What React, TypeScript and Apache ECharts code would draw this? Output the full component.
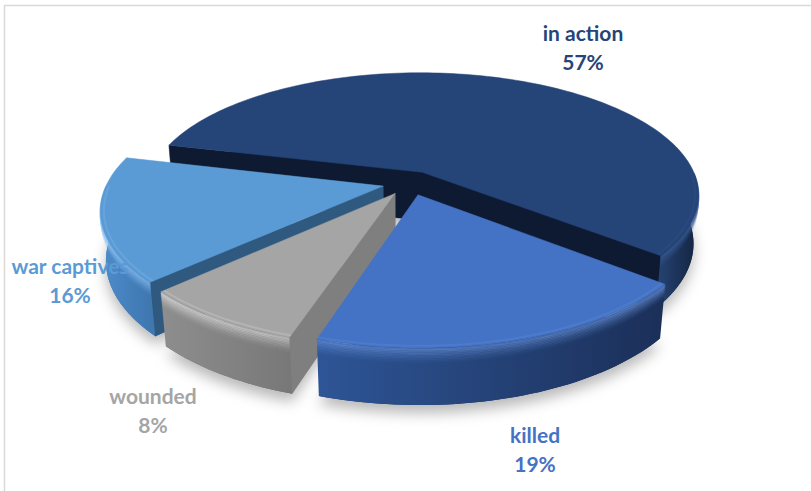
import React, { useEffect, useRef } from "react";
import * as echarts from "echarts";

const categories = ["in action", "killed", "wounded", "war captives"];
const values = [57, 19, 8, 16];

const topColors = ["#254478", "#4472c4", "#a5a5a5", "#5b9bd5"];
const wallLight = ["#24416f", "#2e5596", "#8e8e8e", "#4d8ccb"];
const wallDark = ["#13233f", "#1b2f58", "#787878", "#3f77b0"];
const cutColors = ["#0e1a31", "#1c3461", "#7f7f7f", "#30597f"];
const rimColors = ["#3a5c94", "#6f9be6", "#e6e6e6", "#8cc2f4"];
const labelColors = ["#264478", "#4472c4", "#a5a5a5", "#5b9bd5"];
const labelAnchors: [number, number][] = [
  [583, 47],
  [535, 449],
  [153, 410],
  [70, 280],
];

const START = 284;
const EXPLODE = 0.1;
const TILT = (26 * Math.PI) / 180;
const DIST = 5;
const SCALE = 276;
const CX = 410;
const CY = 183;
const H = 0.2;

const rad = (d: number) => (d * Math.PI) / 180;

function proj(X: number, Y: number, Z: number): number[] {
  const s = Math.sin(TILT);
  const c = Math.cos(TILT);
  const yc = Y * s + Z * c;
  const d = DIST + Y * c - Z * s;
  const k = (SCALE * DIST) / d;
  return [CX + X * k, CY - yc * k];
}

function rimPts(ox: number, oy: number, t0: number, t1: number, Z: number, r = 1): number[][] {
  const pts: number[][] = [];
  const n = Math.max(2, Math.ceil(Math.abs(t1 - t0) / 1.5));
  for (let j = 0; j <= n; j++) {
    const t = rad(t0 + ((t1 - t0) * j) / n);
    pts.push(proj(ox + r * Math.sin(t), oy + r * Math.cos(t), Z));
  }
  return pts;
}

export default function App() {
  const ref = useRef<HTMLDivElement>(null);
  useEffect(() => {
    if (!ref.current) return;
    const chart = echarts.init(ref.current, undefined, { renderer: "svg" });
    const total = values.reduce((a, b) => a + b, 0);
    const starts: number[] = [];
    let acc = 0;
    values.forEach((v) => {
      starts.push(START + (acc / total) * 360);
      acc += v;
    });
    const mids = values.map((v, i) => starts[i] + ((v / total) * 360) / 2);
    const order = values.map((_, i) => i).sort((a, b) => Math.cos(rad(mids[b])) - Math.cos(rad(mids[a])));
    const rank: number[] = [];
    order.forEach((idx, r) => (rank[idx] = r));

    const renderItem = (params: any, api: any) => {
      const i = params.dataIndex;
      const v = api.value(0);
      const a0 = starts[i];
      const a1 = a0 + (v / total) * 360;
      const m = (a0 + a1) / 2;
      const ox = EXPLODE * Math.sin(rad(m));
      const oy = EXPLODE * Math.cos(rad(m));
      const zb = rank[i] * 40;
      const children: any[] = [];

      const bottom = [proj(ox, oy, -H), ...rimPts(ox, oy, a0, a1, -H)];
      children.push({
        type: "polygon",
        z2: zb,
        shape: { points: bottom },
        style: {
          fill: wallDark[i],
          shadowBlur: 14,
          shadowOffsetY: 8,
          shadowColor: "rgba(0,0,0,0.28)",
        },
      });

      const cutFace = (a: number) => {
        const t = rad(a);
        const pts = [
          proj(ox, oy, 0),
          proj(ox + Math.sin(t), oy + Math.cos(t), 0),
          proj(ox + Math.sin(t), oy + Math.cos(t), -H),
          proj(ox, oy, -H),
        ];
        children.push({
          type: "polygon",
          z2: zb + 1,
          shape: { points: pts },
          style: { fill: cutColors[i], stroke: cutColors[i], lineWidth: 0.5 },
        });
      };
      if (Math.sin(rad(a0)) < 0) cutFace(a0);
      if (Math.sin(rad(a1)) > 0) cutFace(a1);

      const ranges: number[][] = [];
      for (let k = 0; k <= 1; k++) {
        const lo = Math.max(a0, 90 + 360 * k);
        const hi = Math.min(a1, 270 + 360 * k);
        if (hi > lo) ranges.push([lo, hi]);
      }

      ranges.forEach(([lo, hi]) => {
        const topArc = rimPts(ox, oy, lo, hi, 0);
        const botArc = rimPts(ox, oy, lo, hi, -H).reverse();
        const xs = topArc.map((p) => p[0]);
        const xmin = Math.min(...xs);
        const xmax = Math.max(...xs);
        children.push({
          type: "polygon",
          z2: zb + 2,
          shape: { points: [...topArc, ...botArc] },
          style: {
            fill: new echarts.graphic.LinearGradient(
              xmin, 0, xmax, 0,
              [
                { offset: 0, color: wallLight[i] },
                { offset: 1, color: wallDark[i] },
              ],
              true
            ),
          },
        });
        // soft bevel highlight along the top of the wall
        const steps = 10;
        for (let b = 0; b < steps; b++) {
          const z = -0.004 - (b * 0.055) / steps;
          children.push({
            type: "polyline",
            z2: zb + 3 + b,
            shape: { points: rimPts(ox, oy, lo, hi, z) },
            style: {
              stroke: rimColors[i],
              lineWidth: 2,
              opacity: 0.5 * Math.pow(1 - b / steps, 1.6),
              fill: "none",
            },
          });
        }
      });

      const top = [proj(ox, oy, 0), ...rimPts(ox, oy, a0, a1, 0)];
      children.push({
        type: "polygon",
        z2: zb + 20,
        shape: { points: top },
        style: { fill: topColors[i], stroke: topColors[i], lineWidth: 0.5 },
      });
      ranges.forEach(([lo, hi], ri) => {
        children.push({
          type: "polyline",
          z2: zb + 21 + ri,
          shape: { points: rimPts(ox, oy, lo, hi, 0, 0.988) },
          style: { stroke: rimColors[i], lineWidth: 2, opacity: 0.22, fill: "none" },
        });
      });

      const pct = Math.round((v / total) * 100);
      children.push({
        type: "text",
        z2: 200,
        x: labelAnchors[i][0],
        y: labelAnchors[i][1],
        style: {
          text: `${categories[i]}\n${pct}%`,
          fill: labelColors[i],
          font: "bold 21px Lato",
          align: "center",
          verticalAlign: "middle",
          lineHeight: 29,
        },
      });

      return { type: "group", children };
    };

    chart.setOption({
      animation: false,
      backgroundColor: "#ffffff",
      graphic: [
        { type: "line", shape: { x1: 4, y1: 5.5, x2: 811, y2: 5.5 }, style: { stroke: "#d9d9d9", lineWidth: 1.5 } },
        { type: "line", shape: { x1: 4.5, y1: 5, x2: 4.5, y2: 491 }, style: { stroke: "#d9d9d9", lineWidth: 1.5 } },
      ],
      series: [
        {
          type: "custom",
          coordinateSystem: "none",
          renderItem,
          data: values.map((v, i) => ({ name: categories[i], value: v })),
        },
      ],
    });
    return () => chart.dispose();
  }, []);
  return (
    <div
      ref={ref}
      style={{ position: "fixed", left: 0, top: 0, width: 811, height: 491 }}
    />
  );
}
